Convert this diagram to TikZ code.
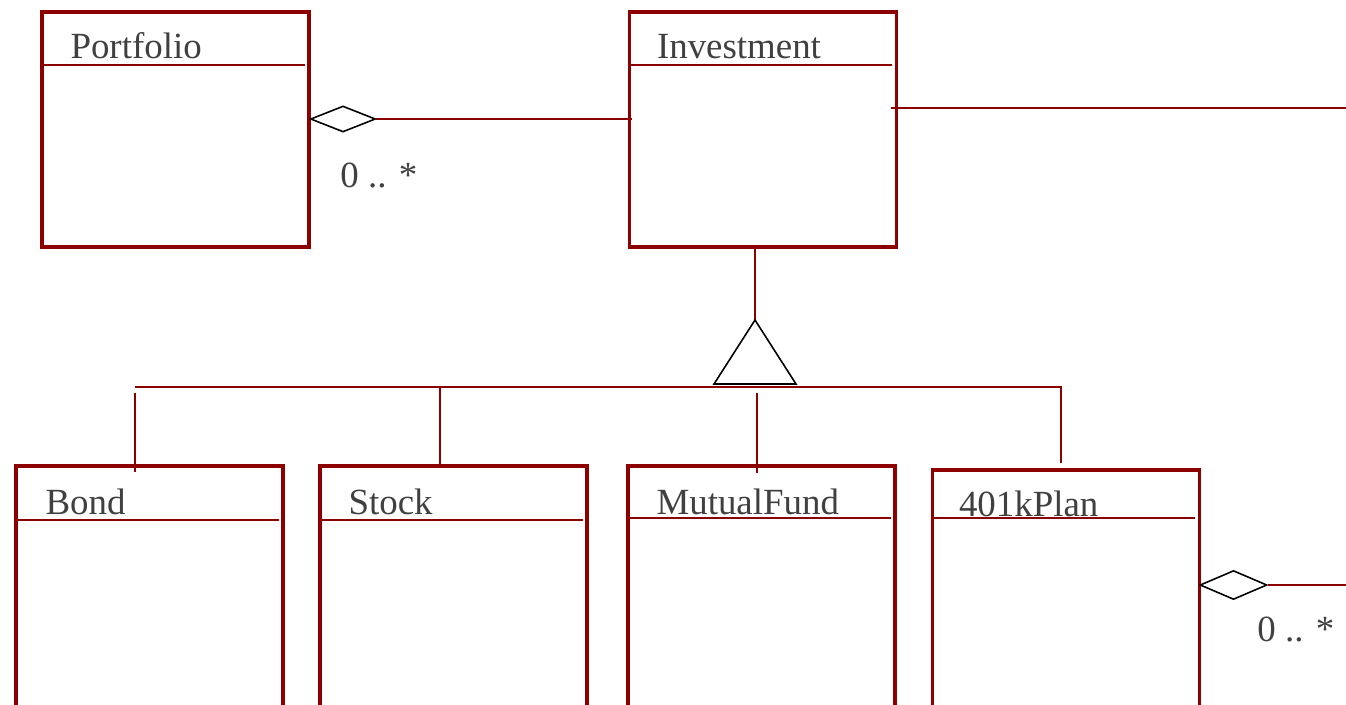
\documentclass[tikz,border=0pt]{standalone}
\usepackage{fontspec}
\setmainfont{Liberation Serif}
\usetikzlibrary{shapes.geometric}
\definecolor{umlred}{RGB}{140,0,0}
\definecolor{umlgray}{RGB}{64,64,64}

\begin{document}
\begin{tikzpicture}[
        x=0.02cm, y=-0.02cm,
        every node/.style={inner sep=0pt},
        classbox/.style={draw=umlred, line width=2.1pt, minimum width=5.34cm, minimum height=4.7cm},
        subbox/.style={classbox, minimum height=5cm},
        classname/.style={font=\fontsize{21}{25}\selectfont, text=umlgray, anchor=base west},
        multi/.style={classname},
        assoc/.style={draw=umlred, line width=1.1pt},
        aggr/.style={diamond, draw=black, line width=0.9pt, fill=white, minimum width=1.3cm, minimum height=0.52cm},
        gener/.style={draw=black, line width=0.9pt, fill=white}
    ]
        \useasboundingbox (0,0) rectangle (1346,704);

        % classes
        \node[classbox] (Portfolio) at (175.5,129.5) {};
        \node[classbox] (Investment) at (763,129.5) {};
        \node[subbox] (Bond) at (149.5,591) {};
        \node[subbox] (Stock) at (453.5,591) {};
        \node[subbox] (MutualFund) at (761.5,591) {};
        \node[subbox] (Plan) at (1066,595) {};

        \node[classname] (PortfolioName) at ([shift={(30,48)}]Portfolio.north west) {Portfolio};
        \node[classname] (InvestmentName) at ([shift={(29,48)}]Investment.north west) {Investment};
        \node[classname] (BondName) at ([shift={(31,50)}]Bond.north west) {Bond};
        \node[classname] (StockName) at ([shift={(30,50)}]Stock.north west) {Stock};
        \node[classname] (MutualFundName) at ([shift={(30,50)}]MutualFund.north west) {MutualFund};
        \node[classname] (PlanName) at ([shift={(28,48)}]Plan.north west) {401kPlan};

        \foreach \b/\d in {Portfolio/55, Investment/55, Bond/56, Stock/56, MutualFund/54, Plan/50}
            \draw[assoc] ([shift={(2,\d)}]\b.north west) -- ([shift={(-6,\d)}]\b.north east);

        % aggregation Portfolio -- Investment
        \node[aggr] (agg1) at (343,119) {};
        \node[multi] (mult1) at (340,187) {0 .. *};
        \draw[assoc] (agg1.east) -- ([shift={(4,0)}]agg1.east -| Investment.west);

        \coordinate (invout) at (1346,108);
        \draw[assoc] ([shift={(-7,0)}]invout -| Investment.east) -- (invout);

        % generalisation
        \coordinate (gen) at (755,320);
        \draw[assoc] (gen |- Investment.south) -- (gen);
        \draw[gener] (gen) -- ++(-41,64) -- ++(82,0) -- cycle;
        \coordinate (barL) at (135,387);
        \coordinate (barR) at (1062,387);
        \draw[assoc] (barL) -- (barR);
        \draw[assoc] (135,393) -- ([shift={(0,8)}]barL |- Bond.north);
        \draw[assoc] (440,387) -- (440,0 |- Stock.north);
        \draw[assoc] (757,393) -- ([shift={(0,9)}]757,0 |- MutualFund.north);
        \draw[assoc] (1061,387) -- ([shift={(0,-5)}]1061,0 |- Plan.north);

        % aggregation 401kPlan
        \node[aggr, minimum width=1.34cm, minimum height=0.58cm] (agg2) at (1233.5,585) {};
        \node[multi] (mult2) at (1257,641) {0 .. *};
        \coordinate (planout) at (1346,585);
        \draw[assoc] (agg2.east) -- (planout);
\end{tikzpicture}
\end{document}
